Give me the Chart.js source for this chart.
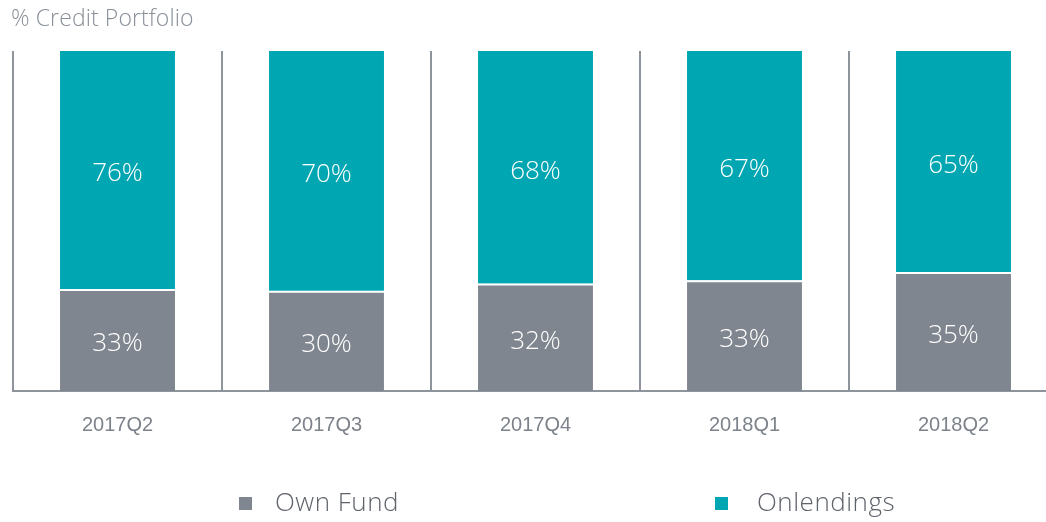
<!DOCTYPE html>
<html>
<head>
<meta charset="utf-8">
<script src="https://cdn.jsdelivr.net/npm/chart.js@4"></script>
<style>
  html, body { margin: 0; padding: 0; background: #fff; overflow: hidden; }
  #wrap { width: 1062px; height: 522px; position: relative; }
</style>
</head>
<body>
<div id="wrap"><canvas id="creditChart"></canvas></div>
<script>
// Credit portfolio mix by quarter
const quarters = ['2017Q2', '2017Q3', '2017Q4', '2018Q1', '2018Q2'];
const ownFund = [30.0, 29.5, 31.6, 32.6, 35.0];
const onlendings = [70.0, 70.5, 68.4, 67.4, 65.0];
const ownFundLabels = ['33%', '30%', '32%', '33%', '35%'];
const onlendingsLabels = ['76%', '70%', '68%', '67%', '65%'];

const GRAY = '#80868f';
const TEAL = '#00a6b1';
const LINE = '#8e949b';

const barLabels = [ownFundLabels, onlendingsLabels];

const extras = {
    id: 'extras',
    afterDatasetsDraw(chart) {
        const ctx = chart.ctx;
        ctx.save();
        ctx.fillStyle = '#ffffff';
        ctx.font = '300 26px "Open Sans"';
        ctx.textAlign = 'center';
        ctx.textBaseline = 'middle';
        chart.data.datasets.forEach((ds, i) => {
            chart.getDatasetMeta(i).data.forEach((bar, j) => {
                const p = bar.getProps(['x', 'y', 'base'], true);
                ctx.fillText(barLabels[i][j], p.x, (p.y + p.base) / 2 + 4);
            });
        });
        ctx.restore();
    },
    afterDraw(chart) {
        const ctx = chart.ctx;
        ctx.save();
        // title
        ctx.fillStyle = '#8a9098';
        ctx.font = '300 23px "Open Sans"';
        ctx.letterSpacing = '0.1px';
        ctx.textAlign = 'left';
        ctx.textBaseline = 'middle';
        ctx.fillText('% Credit Portfolio', 11, 19);
        // legend
        const items = [
            { text: 'Own Fund', color: GRAY, x: 239, tx: 275 },
            { text: 'Onlendings', color: TEAL, x: 715, tx: 757 }
        ];
        ctx.font = '300 26px "Open Sans"';
        ctx.letterSpacing = '0.5px';
        items.forEach(it => {
            ctx.fillStyle = it.color;
            ctx.fillRect(it.x, 497, 13, 13);
            ctx.fillStyle = '#5f646b';
            ctx.fillText(it.text, it.tx, 504);
        });
        ctx.restore();
    }
};

new Chart(document.getElementById('creditChart'), {
    type: 'bar',
    data: {
        labels: quarters,
        datasets: [{
            label: 'Own Fund',
            data: ownFund,
            backgroundColor: GRAY,
            borderColor: '#ffffff',
            borderWidth: { top: 2, left: 0, right: 0, bottom: 0 },
            borderSkipped: false
        }, {
            label: 'Onlendings',
            data: onlendings,
            backgroundColor: TEAL,
            borderWidth: 0
        }]
    },
    options: {
        responsive: true,
        maintainAspectRatio: false,
        animation: false,
        datasets: {
            bar: { categoryPercentage: 1, barPercentage: 0.55 }
        },
        layout: { padding: { left: 13, top: 51, right: 4, bottom: 63 } },
        plugins: {
            legend: { display: false },
            tooltip: { enabled: false }
        },
        scales: {
            x: {
                stacked: true,
                grid: { offset: true, color: LINE, lineWidth: 2, drawTicks: false },
                border: { display: true, color: LINE, width: 2 },
                ticks: {
                    color: '#7d838b',
                    padding: 22,
                    font: { family: '"Liberation Sans", Arial', size: 20 }
                }
            },
            y: {
                stacked: true,
                display: false,
                min: 0,
                max: 100
            }
        }
    },
    plugins: [extras]
});
</script>
</body>
</html>
